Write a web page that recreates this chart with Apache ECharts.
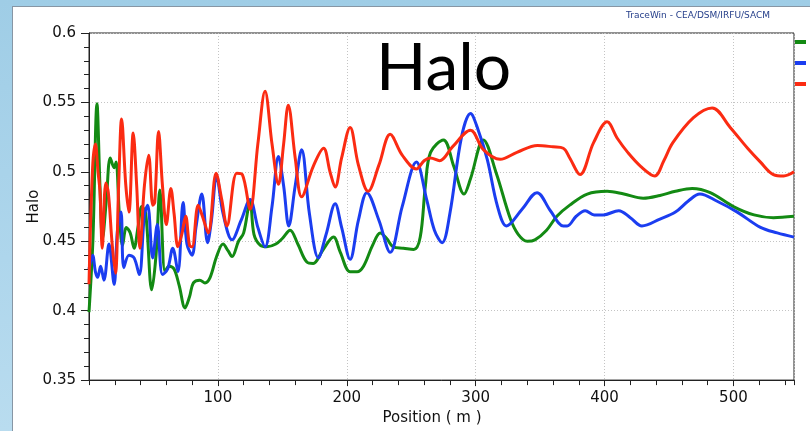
<!DOCTYPE html>
<html>
<head>
<meta charset="utf-8">
<script src="https://cdn.jsdelivr.net/npm/echarts@6/dist/echarts.min.js"></script>
<style>
  html, body { margin: 0; padding: 0; width: 810px; height: 431px; overflow: hidden; }
  body { background: linear-gradient(180deg, #9fcde6 0%, #aed6ec 60%, #b9dcef 100%); position: relative; }
  #panel { position: absolute; left: 12px; top: 6px; right: 0; bottom: 0; background: #fff;
           border-left: 1px solid #8796a4; border-top: 1px solid #8796a4; }
  #chart { position: absolute; left: 0; top: 0; width: 810px; height: 431px; }
</style>
</head>
<body>
<div id="panel"></div>
<div id="chart"></div>
<script>
// Halo parameter along the linac: [position (m), halo]
const seriesNames = ['Halo x', 'Halo y', 'Halo z'];

const haloGreen = [
  [0, 0.399], [3, 0.45], [6.2, 0.549], [8.5, 0.49], [10.5, 0.452], [13.5, 0.48], [16.5, 0.51],
  [19.5, 0.503], [21, 0.507], [23.5, 0.47], [26, 0.447], [29, 0.46], [32, 0.456], [35, 0.445],
  [38, 0.46], [41, 0.475], [44, 0.47], [48.7, 0.415], [52, 0.44], [55, 0.487], [59, 0.428],
  [62, 0.432], [66, 0.43], [70, 0.418], [74.5, 0.402], [78, 0.41], [81, 0.42], [86, 0.422],
  [90, 0.42], [94, 0.424], [99, 0.439], [104, 0.448], [108, 0.443], [111, 0.439], [116, 0.45],
  [120, 0.456], [125, 0.479], [128, 0.455], [133, 0.447], [138, 0.446], [145, 0.448], [150, 0.452],
  [156, 0.458], [162, 0.448], [169, 0.435], [174, 0.434], [181, 0.443], [189.7, 0.453], [195, 0.442],
  [202.6, 0.428], [208, 0.428], [213, 0.432], [220, 0.447], [226, 0.456], [231, 0.452], [236, 0.446],
  [244, 0.445], [252, 0.444], [257, 0.453], [261, 0.49], [265, 0.514], [275, 0.523], [283, 0.504],
  [291, 0.484], [296, 0.495], [306, 0.523], [316, 0.499], [327, 0.466], [333, 0.455], [340, 0.45],
  [346, 0.451], [355, 0.458], [363, 0.468], [373, 0.476], [386.6, 0.484], [402, 0.486], [415, 0.484],
  [430, 0.481], [443, 0.483], [455, 0.486], [468, 0.488], [482, 0.485], [500, 0.475], [516, 0.469],
  [531, 0.467], [547, 0.468]
];

const haloBlue = [
  [0, 0.43], [2.8, 0.44], [5, 0.428], [6.7, 0.424], [9, 0.432], [11.6, 0.422], [15.5, 0.448],
  [19.5, 0.419], [22, 0.457], [24.8, 0.471], [27, 0.431], [31, 0.44], [35, 0.438], [39, 0.426],
  [43, 0.469], [45.5, 0.476], [49.4, 0.438], [53, 0.462], [57, 0.426], [61, 0.43], [65, 0.445],
  [69, 0.428], [73, 0.478], [76, 0.448], [80, 0.44], [83, 0.46], [87.5, 0.484], [92, 0.449],
  [95, 0.465], [99, 0.497], [104, 0.47], [111, 0.451], [118, 0.465], [125, 0.48], [131, 0.46],
  [136.6, 0.446], [142, 0.475], [147, 0.511], [151, 0.49], [155, 0.461], [160, 0.49], [165, 0.516],
  [171, 0.47], [178, 0.438], [184, 0.455], [191, 0.477], [196, 0.46], [202.6, 0.437], [209, 0.465],
  [215.6, 0.485], [225, 0.465], [233.7, 0.442], [243, 0.475], [254, 0.507], [262, 0.48], [268, 0.458],
  [274, 0.449], [280, 0.47], [289, 0.525], [296, 0.542], [302, 0.53], [309, 0.509], [317, 0.475],
  [324, 0.461], [336, 0.473], [347.6, 0.485], [358, 0.472], [368, 0.461], [371, 0.461], [378, 0.468],
  [385, 0.472], [392, 0.469], [399, 0.469], [411, 0.472], [420, 0.467], [429, 0.461], [443, 0.466],
  [455, 0.471], [465, 0.479], [474, 0.484], [487, 0.479], [503, 0.471], [521, 0.46], [534, 0.456],
  [547, 0.453]
];

const haloRed = [
  [0, 0.419], [2.8, 0.503], [5, 0.52], [7, 0.5], [8.5, 0.486], [10.3, 0.445], [13, 0.492],
  [15, 0.485], [17.8, 0.45], [20.5, 0.427], [23, 0.49], [25.3, 0.538], [28.5, 0.491], [31, 0.471],
  [34.3, 0.528], [37, 0.49], [39.5, 0.445], [43, 0.49], [46.3, 0.512], [49.5, 0.476], [51, 0.478],
  [54, 0.529], [57, 0.49], [60, 0.462], [63.5, 0.488], [66, 0.47], [69, 0.446], [72, 0.455],
  [75, 0.468], [78, 0.447], [80, 0.446], [84.7, 0.476], [88, 0.468], [92.5, 0.456], [98.6, 0.499],
  [103, 0.48], [107, 0.461], [114.6, 0.499], [119, 0.498], [125, 0.473], [131, 0.52], [136.6, 0.558],
  [142, 0.52], [147, 0.491], [151, 0.52], [154.6, 0.548], [160, 0.51], [165, 0.482], [174, 0.504],
  [182, 0.517], [187, 0.5], [191, 0.489], [196, 0.51], [202.6, 0.532], [209, 0.505], [216.6, 0.486],
  [225, 0.505], [233.7, 0.527], [243, 0.512], [254, 0.502], [260, 0.508], [265, 0.51], [272, 0.508],
  [282, 0.518], [296, 0.53], [306, 0.516], [319, 0.509], [332, 0.514], [348, 0.519], [360, 0.518],
  [368, 0.517], [373, 0.51], [381, 0.498], [391.5, 0.521], [402, 0.536], [410, 0.524], [418, 0.514],
  [428, 0.504], [439, 0.497], [446, 0.508], [453, 0.521], [469, 0.539], [483.5, 0.546], [497.5, 0.532],
  [511, 0.517], [521, 0.507], [531, 0.498], [539, 0.497], [547, 0.5]
];

const xRange = [0, 547];
const yRange = [0.35, 0.6];

const axisFont = 'DejaVu Sans';
const chart = echarts.init(document.getElementById('chart'), null, { renderer: 'canvas' });

function lineSeries(name, data, color) {
  return {
    name, type: 'line', data, color,
    smooth: 0.35, showSymbol: false, symbol: 'none',
    lineStyle: { width: 3, color },
    emphasis: { disabled: true }
  };
}

chart.setOption({
  animation: false,
  backgroundColor: 'transparent',
  grid: { left: 89, right: 16, top: 33, bottom: 50, show: true, borderColor: '#222', borderWidth: 1 },
  legend: {
    orient: 'vertical', left: 795, top: 36, padding: 0,
    icon: 'rect', itemWidth: 11, itemHeight: 4, itemGap: 9,
    textStyle: { fontSize: 12, color: '#888', fontFamily: axisFont },
    data: seriesNames
  },
  xAxis: [{
    type: 'value', min: xRange[0], max: xRange[1], interval: 100,
    name: 'Position ( m )', nameLocation: 'middle', nameGap: 29,
    nameTextStyle: { fontSize: 15, color: '#111', fontFamily: axisFont, padding: [0, 19, 0, 0] },
    axisLine: { show: true, lineStyle: { color: '#222' } },
    axisTick: { show: true, length: 6, lineStyle: { color: '#222' } },
    axisLabel: { fontSize: 15, color: '#111', fontFamily: axisFont, margin: 11,
                 showMinLabel: false, showMaxLabel: false },
    splitLine: { show: true, lineStyle: { color: '#c4c4c4', type: [1, 2], width: 1 } }
  }, {
    type: 'value', min: xRange[0], max: xRange[1], interval: 20, position: 'bottom',
    axisLine: { show: false },
    axisTick: { show: true, length: 5, lineStyle: { color: '#222' } },
    axisLabel: { show: false },
    splitLine: { show: false }
  }],
  yAxis: {
    type: 'value', min: yRange[0], max: yRange[1], interval: 0.05,
    name: 'Halo', nameLocation: 'middle', nameGap: 47, nameMoveOverlap: false,
    nameTextStyle: { fontSize: 15, color: '#111', fontFamily: axisFont },
    axisLine: { show: true, lineStyle: { color: '#222' } },
    axisTick: { show: true, length: 8, lineStyle: { color: '#222' } },
    minorTick: { show: true, splitNumber: 5, length: 5, lineStyle: { color: '#222' } },
    axisLabel: { fontSize: 15, color: '#111', fontFamily: axisFont, margin: 13 },
    splitLine: { show: true, lineStyle: { color: '#c4c4c4', type: [1, 2], width: 1 } }
  },
  graphic: [{
    type: 'text', left: 444 - 68, top: 36,
    style: { text: 'Halo', fill: '#000', font: '400 66px Lato', textAlign: 'left' }
  }, {
    type: 'text', right: 40, top: 11,
    style: { text: 'TraceWin - CEA/DSM/IRFU/SACM', fill: '#27408b', font: '9px "DejaVu Sans"' }
  }],
  series: [
    lineSeries(seriesNames[0], haloGreen, '#138a13'),
    lineSeries(seriesNames[1], haloBlue, '#1b3df0'),
    lineSeries(seriesNames[2], haloRed, '#fb2b12')
  ]
});
</script>
</body>
</html>
